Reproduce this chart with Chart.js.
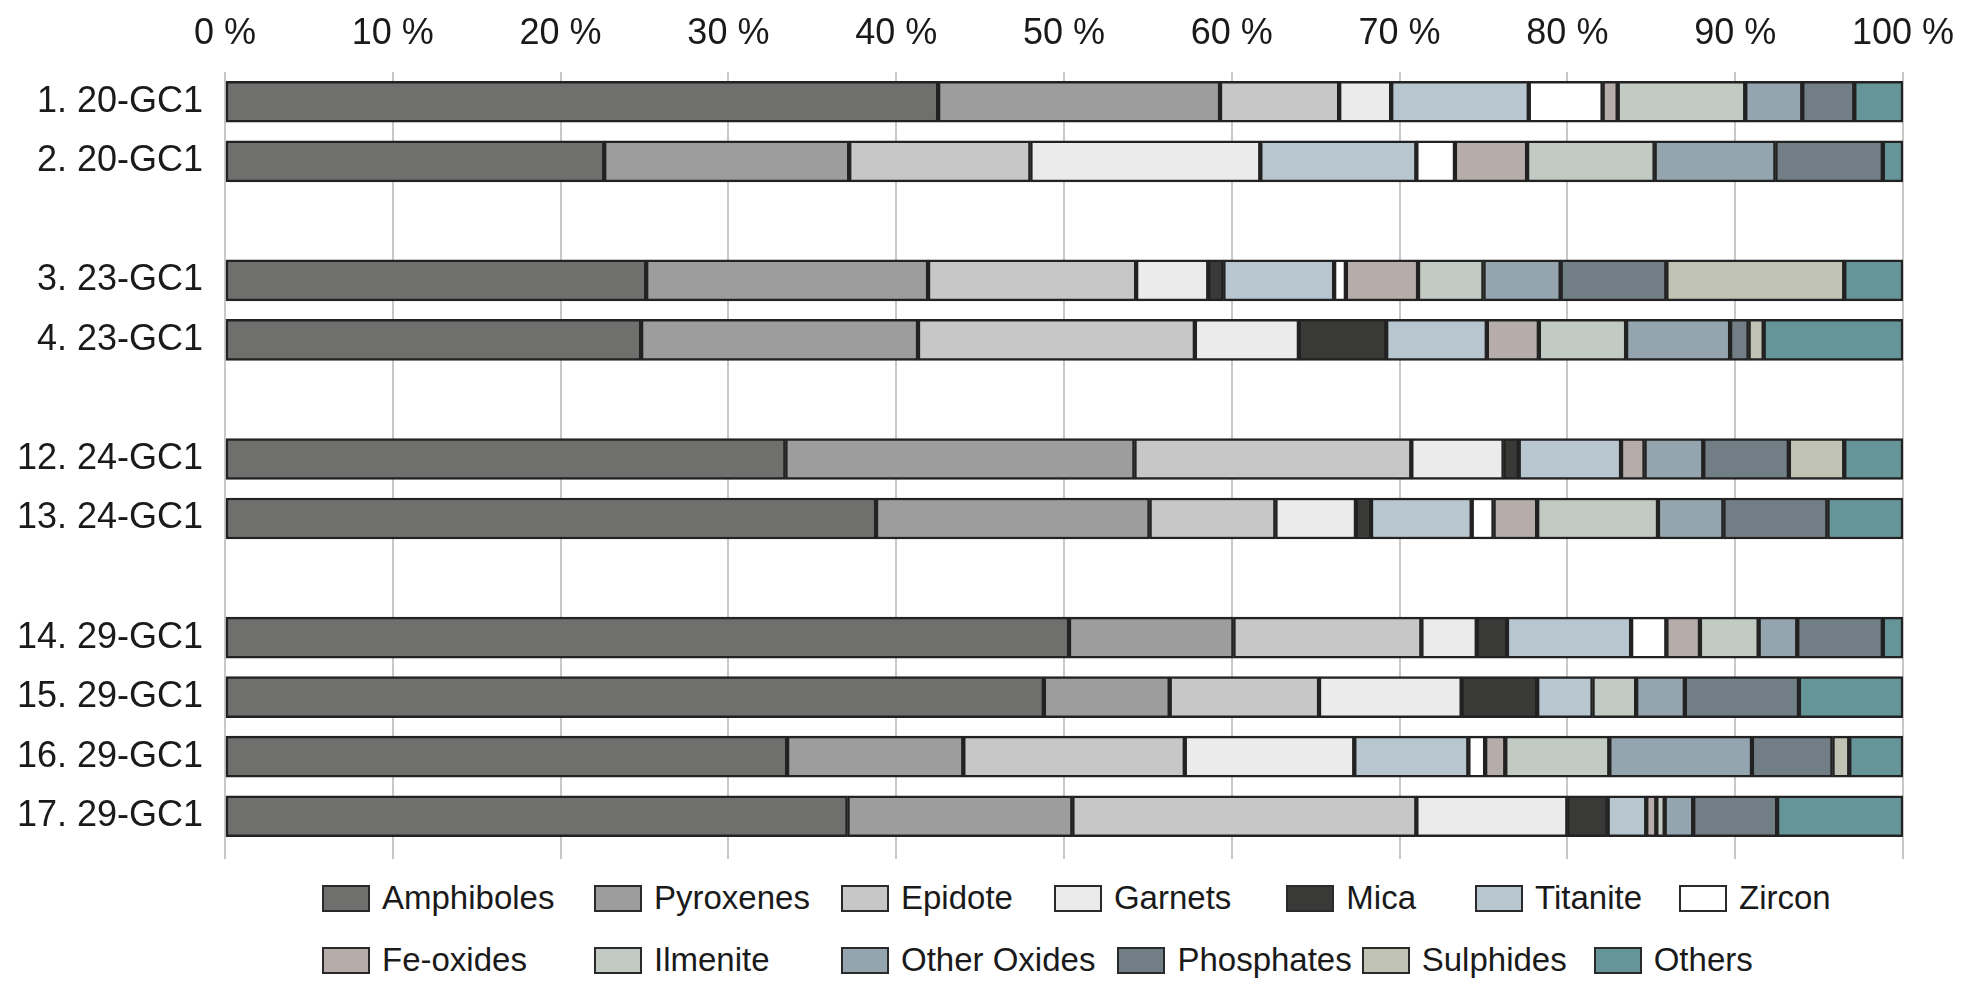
<!DOCTYPE html>
<html>
<head>
<meta charset="utf-8">
<script src="https://cdn.jsdelivr.net/npm/chart.js@4.4.1/dist/chart.umd.min.js"></script>
<style>
  body { margin: 0; background: #fff; font-family: "Liberation Sans", Arial, sans-serif; }
  #wrap { position: relative; width: 1970px; height: 997px; }
  #chartBox { position: absolute; left: 0; top: 0; width: 1970px; height: 870px; }
  #legend { position: absolute; left: 322px; top: 878px; width: 1640px;
            display: flex; flex-wrap: wrap; row-gap: 11px; }
  .item { display: flex; align-items: center; height: 40px; font-size: 33px; color: #1a1a1a;
          margin-right: 42px; white-space: nowrap; }
  .brk { flex-basis: 100%; height: 0; }
  .item:nth-child(1), .item:nth-child(9) { width: 272px; margin-right: 0; }
  .item:nth-child(2), .item:nth-child(10) { width: 247px; margin-right: 0; }
  .item:nth-child(3) { margin-right: 41px; }
  .item:nth-child(4) { margin-right: 55px; }
  .item:nth-child(5) { margin-right: 59px; }
  .item:nth-child(6) { margin-right: 37px; }
  .item:nth-child(11) { margin-right: 22px; }
  .item:nth-child(12) { margin-right: 10px; }
  .item:nth-child(13) { margin-right: 27px; }
  .box { width: 44px; height: 23px; border: 2px solid #2a2a2a; margin-right: 12px; }
</style>
</head>
<body>
<div id="wrap">
  <div id="chartBox"><canvas id="myChart"></canvas></div>
  <div id="legend"></div>
</div>
<script>
// samples (top to bottom) and where a blank row goes between groups
const samples = ['1. 20-GC1', '2. 20-GC1', '3. 23-GC1', '4. 23-GC1', '12. 24-GC1',
                 '13. 24-GC1', '14. 29-GC1', '15. 29-GC1', '16. 29-GC1', '17. 29-GC1'];
const gapAfter = [1, 3, 5];

// mineral shares in %, one value per sample
const amphiboles   = [42.5, 22.6, 25.1, 24.8, 33.4, 38.8, 50.3, 48.8, 33.5, 37.1];
const pyroxenes    = [16.8, 14.6, 16.8, 16.5, 20.8, 16.3,  9.8,  7.5, 10.5, 13.4];
const epidote      = [ 7.1, 10.8, 12.4, 16.5, 16.5,  7.5, 11.2,  8.9, 13.2, 20.5];
const garnets      = [ 3.1, 13.7,  4.3,  6.2,  5.5,  4.8,  3.3,  8.5, 10.1,  9.0];
const mica         = [ 0,    0,    0.9,  5.2,  0.9,  0.9,  1.8,  4.5,  0,    2.4];
const titanite     = [ 8.2,  9.3,  6.6,  6.0,  6.1,  6.0,  7.4,  3.3,  6.8,  2.3];
const zircon       = [ 4.4,  2.3,  0.7,  0,    0,    1.3,  2.1,  0,    1.0,  0];
const feOxides     = [ 0.9,  4.3,  4.3,  3.1,  1.4,  2.6,  2.0,  0,    1.2,  0.6];
const ilmenite     = [ 7.6,  7.6,  3.9,  5.2,  0,    7.2,  3.5,  2.6,  6.2,  0.5];
const otherOxides  = [ 3.4,  7.2,  4.6,  6.2,  3.5,  3.9,  2.3,  2.9,  8.5,  1.7];
const phosphates   = [ 3.1,  6.4,  6.3,  1.1,  5.1,  6.2,  5.1,  6.8,  4.8,  5.0];
const sulphides    = [ 0,    0,   10.6,  0.9,  3.3,  0,    0,    0,    1.0,  0];
const others       = [ 2.9,  1.2,  3.5,  8.3,  3.5,  4.5,  1.2,  6.2,  3.2,  7.5];

const xTicks = [0, 10, 20, 30, 40, 50, 60, 70, 80, 90, 100];

const series = [
  ['Amphiboles', amphiboles, '#6f6f6e'],
  ['Pyroxenes', pyroxenes, '#9d9d9d'],
  ['Epidote', epidote, '#c6c7c6'],
  ['Garnets', garnets, '#ebebeb'],
  ['Mica', mica, '#393937'],
  ['Titanite', titanite, '#b8c6d0'],
  ['Zircon', zircon, '#ffffff'],
  ['Fe-oxides', feOxides, '#b6adaa'],
  ['Ilmenite', ilmenite, '#c1cbc4'],
  ['Other Oxides', otherOxides, '#94a5af'],
  ['Phosphates', phosphates, '#727e86'],
  ['Sulphides', sulphides, '#c0c2b4'],
  ['Others', others, '#659598']
];

// insert blank rows between sample groups
function withGaps(arr, blank) {
  let out = [];
  arr.forEach(function(v, i) {
    out.push(v);
    if (gapAfter.includes(i)) out.push(blank);
  });
  return out;
}

const labels = withGaps(samples, '');
const datasets = series.map(function(s) {
  return {
    label: s[0],
    data: withGaps(s[1], null),
    backgroundColor: s[2],
    borderColor: '#222222',
    borderWidth: 2.5,
    borderSkipped: false,
    barThickness: 41
  };
});

// html legend built from the chart's own legend items, two rows
const htmlLegend = {
  id: 'htmlLegend',
  afterUpdate(chart) {
    const box = document.getElementById('legend');
    box.innerHTML = '';
    const items = chart.options.plugins.legend.labels.generateLabels(chart);
    const perRow = Math.ceil(items.length / 2);
    items.forEach(function(item, i) {
      if (i === perRow) {
        const brk = document.createElement('div');
        brk.className = 'brk';
        box.appendChild(brk);
      }
      const div = document.createElement('div');
      div.className = 'item';
      const sw = document.createElement('span');
      sw.className = 'box';
      sw.style.background = item.fillStyle;
      div.appendChild(sw);
      div.appendChild(document.createTextNode(item.text));
      box.appendChild(div);
    });
  }
};

const font = { family: '"Liberation Sans", Arial, sans-serif', size: 36 };
const setTicks = function(axis) {
  axis.ticks = xTicks.map(function(v) { return { value: v }; });
};

const myChart = new Chart(document.getElementById('myChart').getContext('2d'), {
  type: 'bar',
  data: { labels: labels, datasets: datasets },
  options: {
    indexAxis: 'y',
    responsive: true,
    maintainAspectRatio: false,
    animation: false,
    layout: { padding: { left: 19, right: 65, top: 0, bottom: 11 } },
    plugins: {
      legend: { display: false },
      tooltip: { enabled: false }
    },
    scales: {
      x: {
        position: 'top',
        stacked: true,
        min: 0,
        max: 100,
        afterBuildTicks: setTicks,
        afterFit: function(axis) { axis.height = 72; },
        ticks: {
          font: font,
          color: '#1a1a1a',
          padding: 16,
          callback: function(v) { return v + ' %'; }
        },
        grid: { color: '#c8c8c8', lineWidth: 2, drawTicks: false },
        border: { display: false }
      },
      // bottom axis only for the short tick marks under the last bar
      xBottom: {
        type: 'linear',
        axis: 'x',
        position: 'bottom',
        min: 0,
        max: 100,
        afterBuildTicks: setTicks,
        afterFit: function(axis) { axis.height = 13; },
        ticks: { display: false },
        grid: { color: '#c8c8c8', lineWidth: 2, drawTicks: true, tickLength: 13 },
        border: { display: false }
      },
      y: {
        stacked: true,
        afterFit: function(axis) {
          axis.width = 206;
          axis.paddingTop = 0;
          axis.paddingBottom = 0;
        },
        ticks: { font: font, color: '#1a1a1a', padding: 22, autoSkip: false },
        grid: { display: false, drawTicks: false },
        border: { display: false }
      }
    }
  },
  plugins: [htmlLegend]
});
</script>
</body>
</html>
